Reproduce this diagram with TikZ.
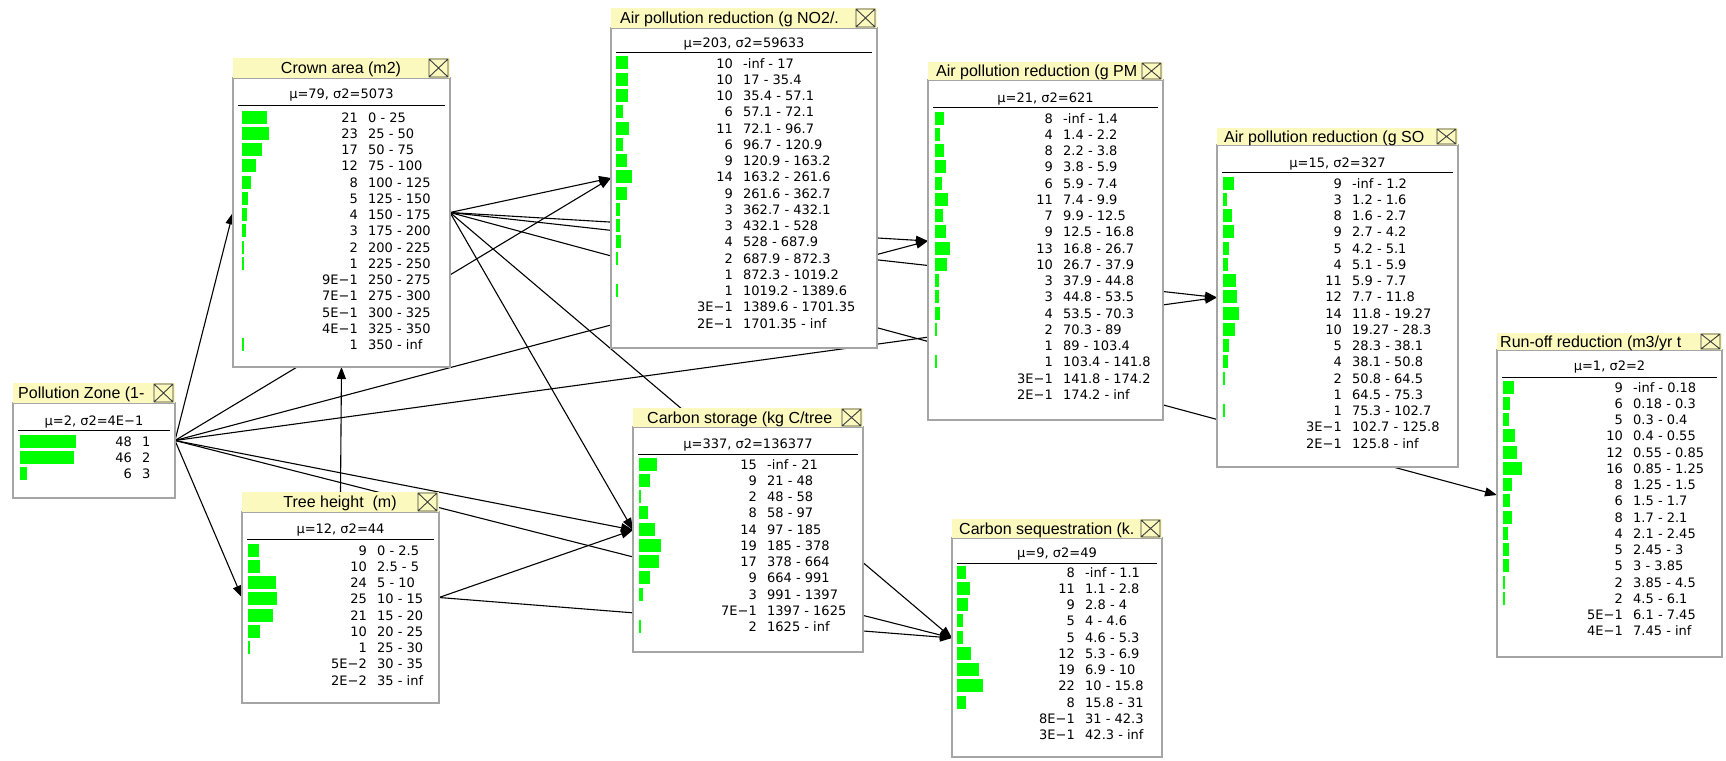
\documentclass[tikz,border=0pt]{standalone}
\usepackage{fontspec}
\setmainfont{DejaVu Sans}
\newfontfamily\bntitlefont{Liberation Sans}
\usetikzlibrary{arrows.meta}
\pgfdeclarelayer{paper}
\pgfdeclarelayer{background}
\pgfsetlayers{paper,background,main}
\definecolor{titlefill}{RGB}{252,249,190}
\definecolor{bargreen}{RGB}{0,255,0}
\definecolor{boxedge}{RGB}{165,165,165}
\definecolor{closegray}{RGB}{60,60,60}
\tikzset{
  anchorbox/.style={inner sep=0pt, outer sep=0pt, draw=none, fill=none},
  bodystyle/.style={fill=white, draw=boxedge, line width=1.3pt},
  titlestyle/.style={fill=titlefill, draw=none},
  closestyle/.style={draw=closegray, line width=0.9pt, fill=titlefill},
  titletext/.style={inner sep=0pt, font=\bntitlefont\fontsize{16}{18}\selectfont},
  celltext/.style={inner sep=0pt, font=\fontsize{13}{16}\selectfont},
  sepline/.style={draw=black, line width=1pt},
  barfill/.style={fill=bargreen},
  link/.style={draw=black, line width=1.1pt, -{Triangle[length=12pt,width=9pt]}},
}
% name x0 yT yB x1 yE titleanchor titlex titletext
\newcommand\bnframe[9]{%
  \node[anchorbox, minimum width={(#5-#2)*1pt}, minimum height={(#6-#3)*1pt}] (#1) at ({(#2+#5)/2},{(#3+#6)/2}) {};
  \path[bodystyle] (#2,#4) rectangle (#5,#6);
  \path[titlestyle] (#2,#3) rectangle (#5,#4);
  \begin{scope}
    \clip (#2,#3) rectangle ({#5-22},#4);
    \node[titletext, anchor=#7] (#1-title) at (#8,{(#3+#4)/2+5.7}) {#9};
  \end{scope}
  \draw[closestyle] ({#5-21},{#3+1}) rectangle ({#5-2},{#4-1})
     ({#5-21},{#3+1}) -- ({#5-2},{#4-1}) ({#5-21},{#4-1}) -- ({#5-2},{#3+1});
}
% name x0 x1 ymean ysep text
\newcommand\bnmean[6]{%
  \node[celltext, anchor=base] (#1-mean) at ({(#2+#3)/2},{#4+5}) {#6};
  \draw[sepline] ({#2+5},#5) -- ({#3-5},#5);
}
% name barx numx y0 list
\newcommand\bnrows[5]{%
  \foreach \rowp/\rowb/\rowl [count=\i from 0] in {#5} {
    \pgfmathsetmacro\yy{#4+16.25*\i}
    \ifdim\rowb pt>0pt
      \fill[barfill] (#2,{\yy-6.5}) rectangle ({#2+max(1.5,1.17*\rowb)},{\yy+6.5});
    \fi
    \node[celltext, anchor=base east] (#1-p\i) at (#3,{\yy+5}) {\rowp};
    \node[celltext, anchor=base west] (#1-s\i) at ({#3+10},{\yy+5}) {\rowl};
  }
}
\begin{document}
\begin{tikzpicture}[x=1pt,y=-1pt]
\useasboundingbox (0,0) rectangle (1726,760);
\begin{pgfonlayer}{paper}
\fill[white] (0,0) rectangle (1726,760);
\end{pgfonlayer}

% Pollution Zone
\bnframe{pz}{13}{383}{403}{175}{498}{base west}{18}{Pollution Zone (1-}
\bnmean{pz}{13}{175}{420}{430}{μ=2, σ2=4E−1}
\bnrows{pz}{20}{132}{441}{48/48/1, 46/46/2, 6/6/3}

% Crown area
\bnframe{crown}{233}{58}{78}{450}{367}{base}{341}{Crown area (m2)}
\bnmean{crown}{233}{450}{93}{105}{μ=79, σ2=5073}
\bnrows{crown}{242}{358}{117}{21/21/0 - 25, 23/23/25 - 50, 17/17/50 - 75, 12/12/75 - 100, 8/8/100 - 125, 5/5/125 - 150, 4/4/150 - 175, 3/3/175 - 200, 2/2/200 - 225, 1/1/225 - 250, 9E−1/0/250 - 275, 7E−1/0/275 - 300, 5E−1/0/300 - 325, 4E−1/0/325 - 350, 1/1/350 - inf}

% Tree height
\bnframe{tree}{242}{492}{512}{439}{703}{base}{340}{Tree height\ \ (m)}
\bnmean{tree}{242}{439}{528}{539}{μ=12, σ2=44}
\bnrows{tree}{248}{367}{550}{9/9/0 - 2.5, 10/10/2.5 - 5, 24/24/5 - 10, 25/25/10 - 15, 21/21/15 - 20, 10/10/20 - 25, 1/1/25 - 30, 5E−2/0/30 - 35, 2E−2/0/35 - inf}

% NO2
\bnframe{no2}{611}{8}{28}{877}{348}{base west}{620}{Air pollution reduction (g NO2/.}
\bnmean{no2}{611}{877}{43}{53}{μ=203, σ2=59633}
\bnrows{no2}{616}{733}{63}{10/10/-inf - 17, 10/10/17 - 35.4, 10/10/35.4 - 57.1, 6/6/57.1 - 72.1, 11/11/72.1 - 96.7, 6/6/96.7 - 120.9, 9/9/120.9 - 163.2, 14/14/163.2 - 261.6, 9/9/261.6 - 362.7, 3/3/362.7 - 432.1, 3/3/432.1 - 528, 4/4/528 - 687.9, 2/2/687.9 - 872.3, 1/0/872.3 - 1019.2, 1/1/1019.2 - 1389.6, 3E−1/0/1389.6 - 1701.35, 2E−1/0/1701.35 - inf}

% Carbon storage
\bnframe{cs}{633}{408}{427}{863}{652}{base west}{647}{Carbon storage (kg C/tree}
\bnmean{cs}{633}{863}{443}{454}{μ=337, σ2=136377}
\bnrows{cs}{639}{757}{464}{15/15/-inf - 21, 9/9/21 - 48, 2/2/48 - 58, 8/8/58 - 97, 14/14/97 - 185, 19/19/185 - 378, 17/17/378 - 664, 9/9/664 - 991, 3/3/991 - 1397, 7E−1/0/1397 - 1625, 2/2/1625 - inf}

% PM
\bnframe{pm}{928}{62}{80}{1163}{420}{base west}{936}{Air pollution reduction (g PM}
\bnmean{pm}{928}{1163}{97}{107}{μ=21, σ2=621}
\bnrows{pm}{935}{1053}{118}{8/8/-inf - 1.4, 4/4/1.4 - 2.2, 8/8/2.2 - 3.8, 9/9/3.8 - 5.9, 6/6/5.9 - 7.4, 11/11/7.4 - 9.9, 7/7/9.9 - 12.5, 9/9/12.5 - 16.8, 13/13/16.8 - 26.7, 10/10/26.7 - 37.9, 3/3/37.9 - 44.8, 3/3/44.8 - 53.5, 4/4/53.5 - 70.3, 2/2/70.3 - 89, 1/0/89 - 103.4, 1/1/103.4 - 141.8, 3E−1/0/141.8 - 174.2, 2E−1/0/174.2 - inf}

% Carbon sequestration
\bnframe{cseq}{952}{519}{538}{1162}{757}{base west}{959}{Carbon sequestration (k.}
\bnmean{cseq}{952}{1162}{552}{563}{μ=9, σ2=49}
\bnrows{cseq}{957}{1075}{572}{8/8/-inf - 1.1, 11/11/1.1 - 2.8, 9/9/2.8 - 4, 5/5/4 - 4.6, 5/5/4.6 - 5.3, 12/12/5.3 - 6.9, 19/19/6.9 - 10, 22/22/10 - 15.8, 8/8/15.8 - 31, 8E−1/0/31 - 42.3, 3E−1/0/42.3 - inf}

% SO2
\bnframe{so2}{1217}{128}{145}{1458}{467}{base west}{1224}{Air pollution reduction (g SO}
\bnmean{so2}{1217}{1458}{162}{172}{μ=15, σ2=327}
\bnrows{so2}{1223}{1342}{183}{9/9/-inf - 1.2, 3/3/1.2 - 1.6, 8/8/1.6 - 2.7, 9/9/2.7 - 4.2, 5/5/4.2 - 5.1, 4/4/5.1 - 5.9, 11/11/5.9 - 7.7, 12/12/7.7 - 11.8, 14/14/11.8 - 19.27, 10/10/19.27 - 28.3, 5/5/28.3 - 38.1, 4/4/38.1 - 50.8, 2/2/50.8 - 64.5, 1/0/64.5 - 75.3, 1/1/75.3 - 102.7, 3E−1/0/102.7 - 125.8, 2E−1/0/125.8 - inf}

% Run-off
\bnframe{runoff}{1497}{333}{350}{1722}{657}{base west}{1500}{Run-off reduction (m3/yr t}
\bnmean{runoff}{1497}{1722}{365}{377}{μ=1, σ2=2}
\bnrows{runoff}{1503}{1623}{387}{9/9/-inf - 0.18, 6/6/0.18 - 0.3, 5/5/0.3 - 0.4, 10/10/0.4 - 0.55, 12/12/0.55 - 0.85, 16/16/0.85 - 1.25, 8/8/1.25 - 1.5, 6/6/1.5 - 1.7, 8/8/1.7 - 2.1, 4/4/2.1 - 2.45, 5/5/2.45 - 3, 5/5/3 - 3.85, 2/2/3.85 - 4.5, 2/2/4.5 - 6.1, 5E−1/0/6.1 - 7.45, 4E−1/0/7.45 - inf}

% links
\begin{pgfonlayer}{background}
\draw[link] (pz.east) -- (crown.west);
\draw[link] (pz.east) -- (tree.west);
\draw[link] (pz.east) -- (no2.west);
\draw[link] (pz.east) -- (pm.west);
\draw[link] (pz.east) -- (so2.west);
\draw[link] (pz.east) -- (cs.west);
\draw[link] (pz.east) -- (cseq.west);
\draw[link] (crown.east) -- (no2.west);
\draw[link] (crown.east) -- (pm.west);
\draw[link] (crown.east) -- (so2.west);
\draw[link] (crown.east) -- (cs.west);
\draw[link] (crown.east) -- (cseq.west);
\draw[link] (crown.east) -- (runoff.west);
\draw[link] (tree.north) -- (crown.south);
\draw[link] (tree.east) -- (cs.west);
\draw[link] (tree.east) -- (cseq.west);
\end{pgfonlayer}
\end{tikzpicture}
\end{document}
